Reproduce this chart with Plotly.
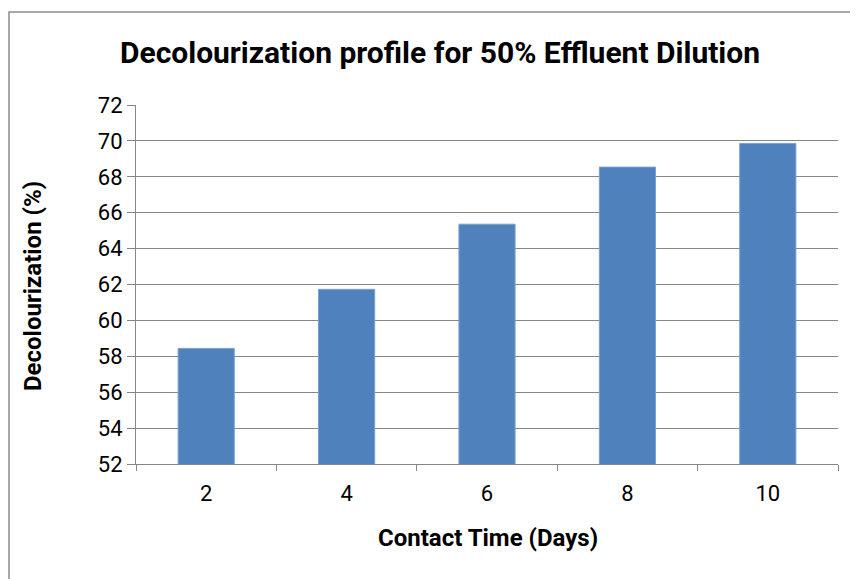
import plotly.graph_objects as go

days = ["2", "4", "6", "8", "10"]
decolourization = [58.44, 61.73, 65.36, 68.54, 69.86]
y_ticks = [52, 54, 56, 58, 60, 62, 64, 66, 68, 70, 72]

FONT = "Roboto, Arial, sans-serif"

fig = go.Figure()
fig.add_trace(go.Bar(
    x=days, y=decolourization,
    marker=dict(color="#4F81BD", line=dict(color="#7A9FD3", width=1)),
    width=0.4,
))

# page has an 8px body margin; figure sized to fit the window
OFF = 8
W, H = 850, 571
ml, mr, mt, mb = 128, 20, 97, 115
pw, ph = W - ml - mr, H - mt - mb

def px(x):
    return (x - OFF - ml) / pw

def py(y):
    return (H - mb - (y - OFF)) / ph

fig.update_layout(
    width=W, height=H,
    margin=dict(l=ml, r=mr, t=mt, b=mb),
    paper_bgcolor="white", plot_bgcolor="white",
    showlegend=False,
    title=dict(
        text="<b>Decolourization profile for 50% Effluent Dilution</b>",
        x=px(440), xref="paper", xanchor="center",
        y=1 - (52 - OFF) / H, yanchor="middle",
        font=dict(family=FONT, size=30, color="black"),
    ),
    font=dict(family=FONT, color="black"),
    shapes=[dict(
        type="rect", xref="paper", yref="paper",
        x0=px(9), x1=px(880),
        y0=py(600), y1=py(12),
        line=dict(color="#8C8C8C", width=1.5), fillcolor="rgba(0,0,0,0)",
        layer="below",
    )],
    annotations=[
        dict(text="<b>Contact Time (Days)</b>", xref="paper", yref="paper",
             x=px(488), y=py(538), xanchor="center", yanchor="middle",
             showarrow=False, font=dict(family=FONT, size=24, color="black")),
        dict(text="<b>Decolourization (%)</b>", xref="paper", yref="paper",
             x=px(33), y=py(286), xanchor="center", yanchor="middle",
             textangle=-90,
             showarrow=False, font=dict(family=FONT, size=24, color="black")),
    ],
)

fig.update_xaxes(
    type="category",
    tickson="boundaries",
    ticks="outside", ticklen=6, tickcolor="#868686", tickwidth=1,
    ticklabelstandoff=10,
    showline=True, linecolor="#868686", linewidth=1,
    showgrid=False,
    tickfont=dict(family=FONT, size=22, color="black"),
)
fig.update_yaxes(
    range=[52, 72],
    tickvals=y_ticks,
    ticks="outside", ticklen=8, tickcolor="#868686", tickwidth=1,
    showline=True, linecolor="#868686", linewidth=1,
    showgrid=True, gridcolor="#868686", gridwidth=1,
    zeroline=False,
    tickfont=dict(family=FONT, size=22, color="black"),
)

fig.write_html("out.html")
